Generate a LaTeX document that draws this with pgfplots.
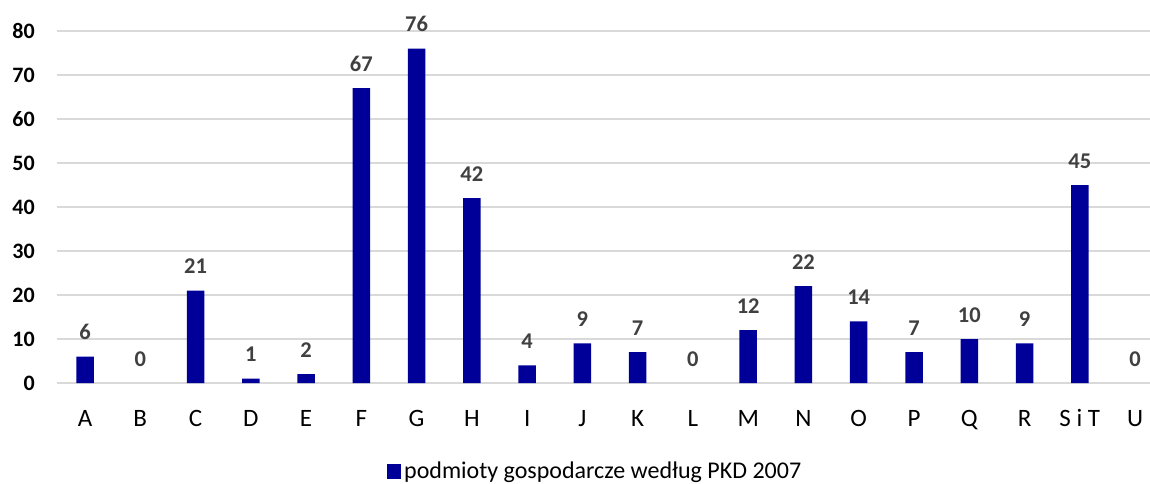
\documentclass[border=0pt]{standalone}
\usepackage{pgfplots}
\pgfplotsset{compat=1.18}
\usepackage{fontspec}
\setmainfont{Carlito}
\definecolor{barblue}{RGB}{0,0,153}
\definecolor{labelgray}{RGB}{64,64,64}
\definecolor{gridgray}{RGB}{217,217,217}
\begin{document}
\fontsize{22}{26}\selectfont
\begin{tikzpicture}
\path[use as bounding box] (-57.4pt,-100pt) rectangle (1092.6pt,383pt);
\begin{axis}[
  at={(0pt,0pt)}, anchor=south west,
  scale only axis,
  width=1105.3pt, height=352pt,
  xmin=-0.5, xmax=19.5, ymin=0, ymax=80,
  ytick={0,10,...,80},
  xtick={0,...,19},
  xticklabels={A,B,C,D,E,F,G,H,I,J,K,L,M,N,O,P,Q,R,S i T,U},
  /pgf/number format/assume math mode=true,
  axis line style={draw=none},
  major tick length=0pt,
  ymajorgrids,
  grid style={draw=gridgray, line width=1.2pt},
  yticklabel style={font=\fontsize{22}{26}\selectfont\bfseries, anchor=east, inner sep=0pt, xshift=-22.5pt},
  xticklabel style={font=\fontsize{25}{29}\selectfont, anchor=base, inner sep=0pt, yshift=-43pt},
  ybar, bar width=17.5pt, bar shift=0pt,
  nodes near coords,
  every node near coord/.append style={font=\fontsize{22.5}{26}\selectfont\bfseries, text=labelgray, anchor=base, inner sep=0pt, yshift=17pt},
  legend style={draw=none, fill=none, at={(0.487,-0.2514)}, anchor=center, inner sep=0pt,
    font=\fontsize{24}{28}\selectfont, column sep=0pt, nodes={inner sep=3pt}},
  legend image code/.code={\fill[barblue] (0pt,-7pt) rectangle (14pt,7pt);},
]
\addplot[fill=barblue, draw=none] coordinates {
(0,6) (2,21) (3,1) (4,2) (5,67) (6,76) (7,42) (8,4) (9,9)
(10,7) (12,12) (13,22) (14,14) (15,7) (16,10) (17,9) (18,45)
};
\addlegendentry{podmioty gospodarcze według PKD 2007}
\addplot[fill=none, draw=none, forget plot] coordinates {(1,0) (11,0) (19,0)};
\end{axis}
\end{tikzpicture}
\end{document}
